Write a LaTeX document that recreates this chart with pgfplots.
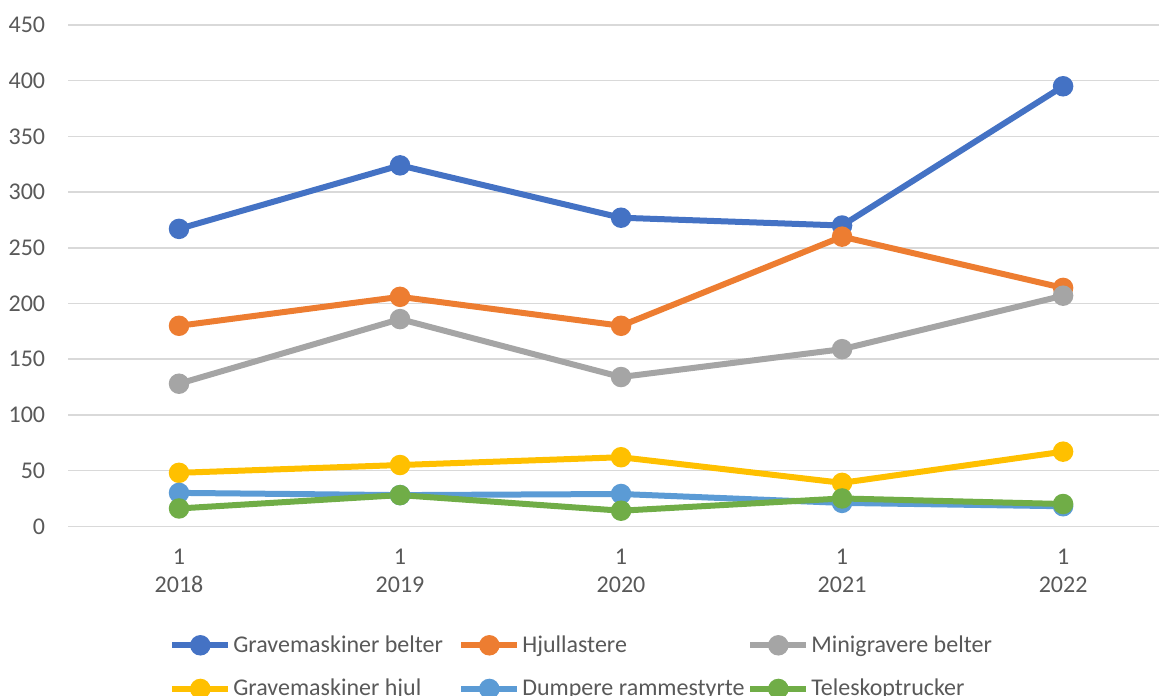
\documentclass[border=0pt]{standalone}
\usepackage{pgfplots}
\pgfplotsset{compat=1.18}
\usepackage{fontspec}
\setmainfont{Carlito}
\definecolor{cBlue}{HTML}{4472C4}
\definecolor{cOrange}{HTML}{ED7D31}
\definecolor{cGray}{HTML}{A5A5A5}
\definecolor{cYellow}{HTML}{FFC000}
\definecolor{cLBlue}{HTML}{5B9BD5}
\definecolor{cGreen}{HTML}{70AD47}
\definecolor{txt}{HTML}{595959}
\definecolor{gridc}{HTML}{D9D9D9}
\newcommand{\lbox}[1]{\makebox[111.5pt][l]{#1}}
\begin{document}
\begin{tikzpicture}
\begin{axis}[
  name=ax,
  at={(0,0)}, anchor=south west,
  width=545.25pt, height=250.65pt,
  scale only axis,
  axis line style={draw=none},
  xmin=-0.5, xmax=4.434,
  ymin=0, ymax=450,
  ytick={0,50,...,450},
  xtick={0,1,2,3,4},
  xticklabels={{1\\2018},{1\\2019},{1\\2020},{1\\2021},{1\\2022}},
  ymajorgrids,
  grid style={gridc, line width=0.75pt},
  major tick length=0pt,
  /pgf/number format/assume math mode=true,
  tick label style={font=\fontsize{12}{14}\selectfont, text=txt},
  yticklabel style={anchor=east, inner sep=0pt, xshift=-11.5pt},
  xticklabel style={align=center, anchor=north, inner sep=0pt, yshift=-11pt},
  clip=false,
  every axis plot/.append style={line width=3pt, mark=*, mark size=3.6pt, mark options={solid}},
  legend columns=3,
  legend style={draw=none, fill=none, at={(0.0866,-0.205)}, anchor=north west,
    font=\fontsize{12}{14}\selectfont, text=txt,
    column sep=0pt, row sep=10pt, nodes={inner sep=1pt}},
  legend cell align=left,
  legend image code/.code={\draw[mark repeat=2, mark phase=2, #1] plot coordinates {(0pt,0pt) (14pt,0pt) (28pt,0pt)};},
]
\addplot[color=cBlue] coordinates {(0,267) (1,324) (2,277) (3,270) (4,395)};
\addlegendentry{\lbox{Gravemaskiner belter}}
\addplot[color=cOrange] coordinates {(0,180) (1,206) (2,180) (3,260) (4,214)};
\addlegendentry{\lbox{Hjullastere}}
\addplot[color=cGray] coordinates {(0,128) (1,186) (2,134) (3,159) (4,207)};
\addlegendentry{\lbox{Minigravere belter}}
\addplot[color=cYellow] coordinates {(0,48) (1,55) (2,62) (3,39) (4,67)};
\addlegendentry{\lbox{Gravemaskiner hjul}}
\addplot[color=cLBlue] coordinates {(0,30) (1,28) (2,29) (3,21) (4,18)};
\addlegendentry{\lbox{Dumpere rammestyrte}}
\addplot[color=cGreen] coordinates {(0,16) (1,28) (2,14) (3,25) (4,20)};
\addlegendentry{\lbox{Teleskoptrucker}}
\end{axis}
\pgfresetboundingbox
\path (ax.south west) ++(-34.25pt,-84.35pt) rectangle ++(579.5pt,347.5pt);
\end{tikzpicture}
\end{document}
